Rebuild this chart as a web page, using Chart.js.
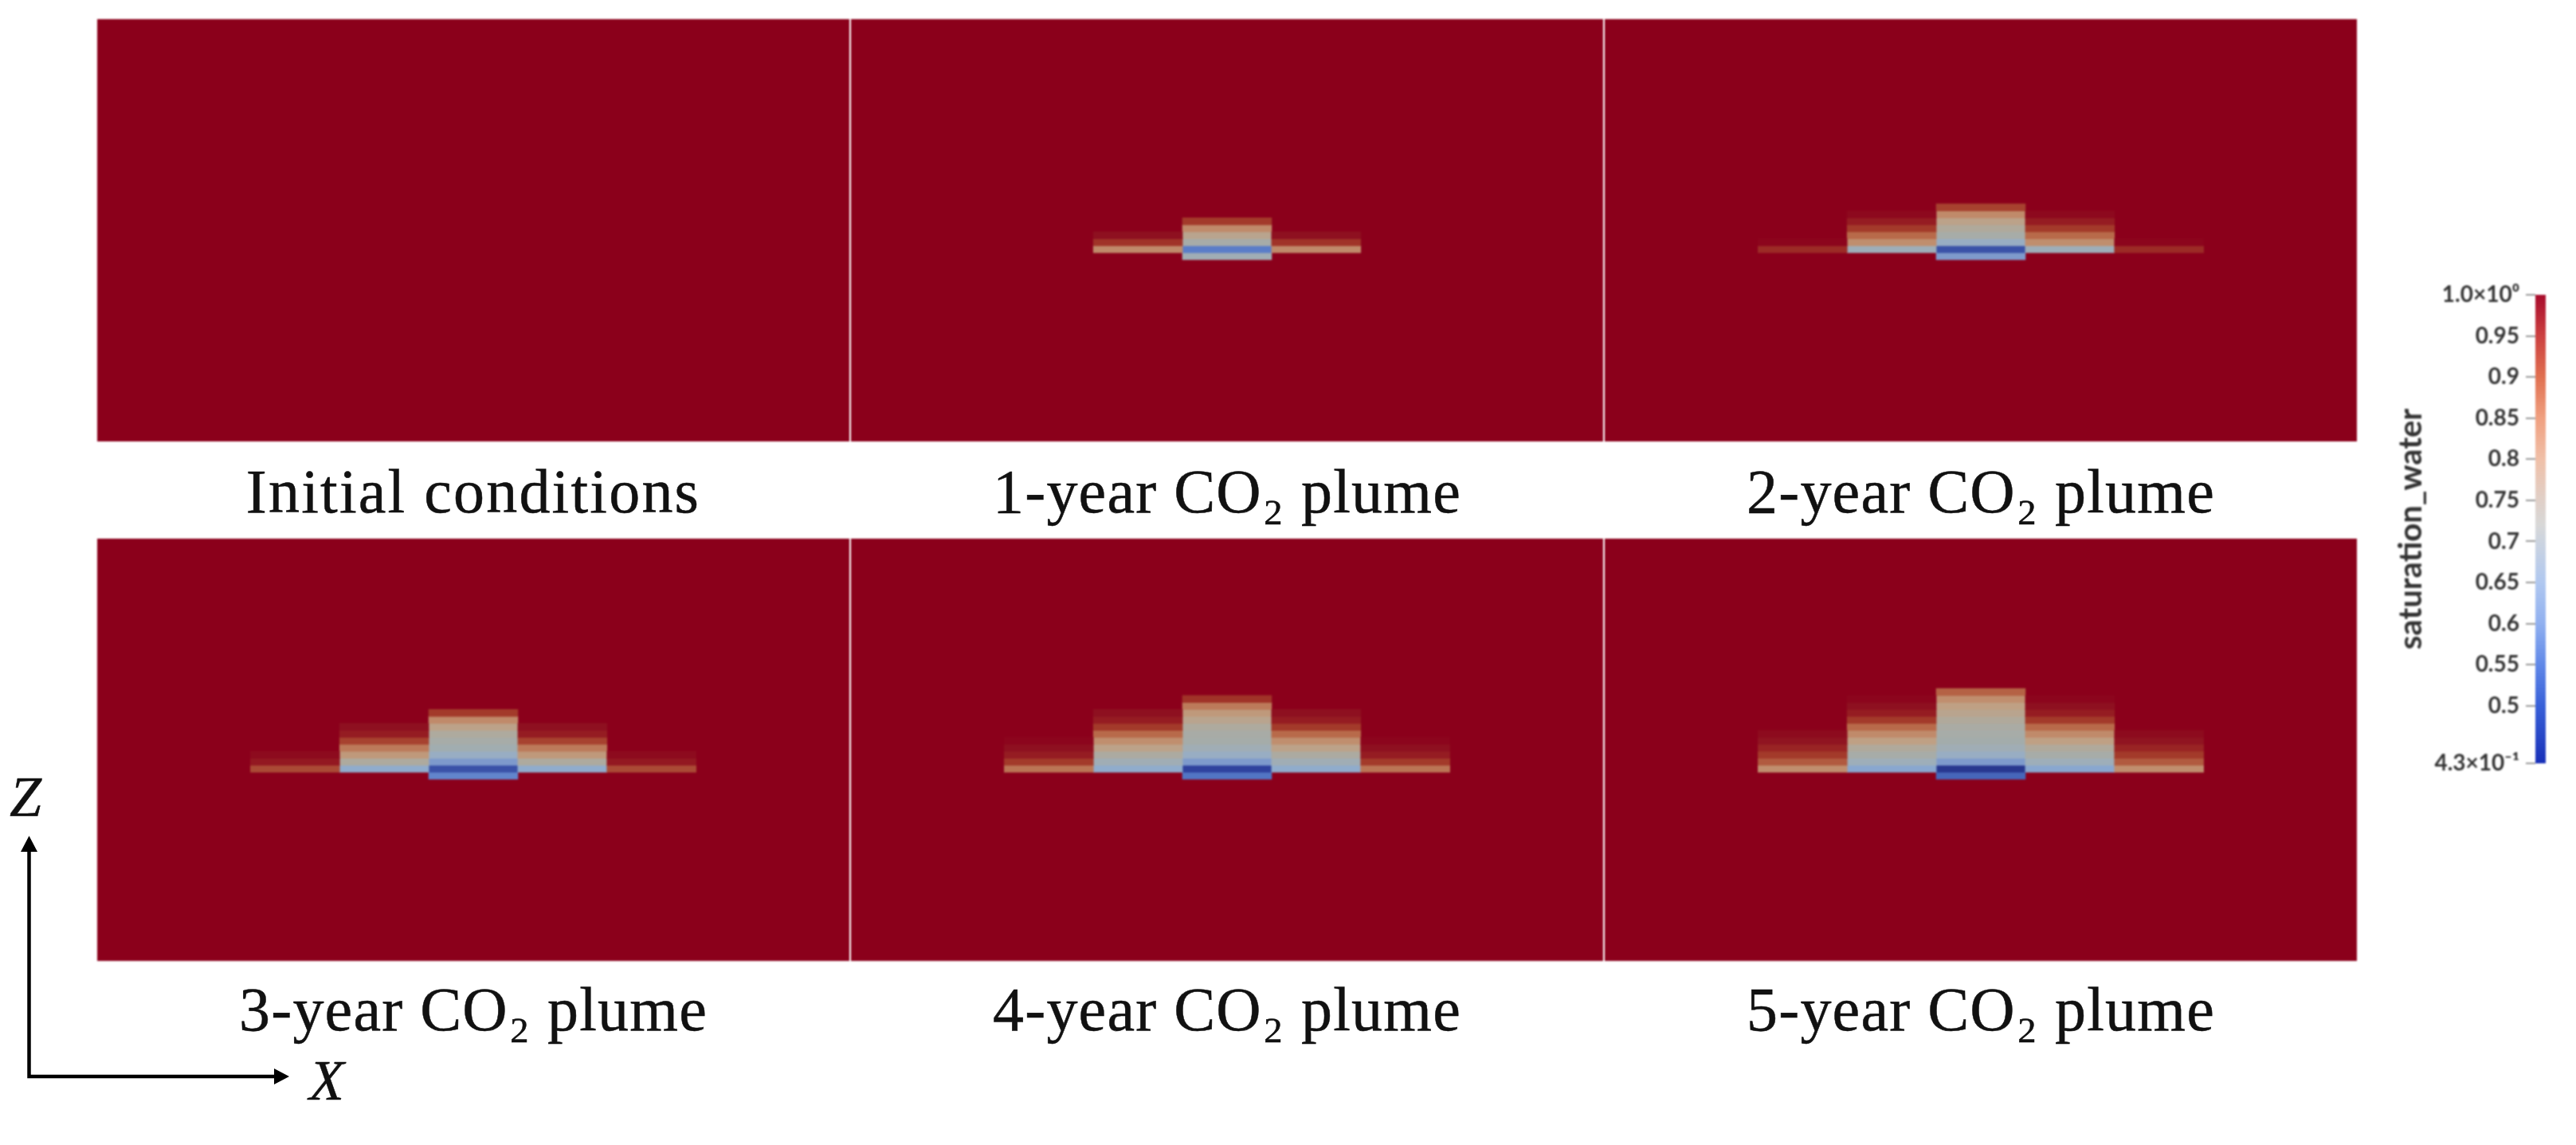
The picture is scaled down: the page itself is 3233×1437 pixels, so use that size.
<!DOCTYPE html>
<html lang="en">

<head>
    <meta charset="UTF-8">
    <title>CO2 plume saturation</title>
    <script src="https://cdn.jsdelivr.net/npm/chart.js@4/dist/chart.umd.min.js"></script>
    <style>
        body { margin: 0; background: #fff; width: 3233px; height: 1437px; overflow: hidden; position: relative; }
        canvas { position: absolute; }
        .panel { background: #8b001b; filter: blur(1.2px); }
        #colorbar { filter: blur(0.8px); }
        .caption { position: absolute; width: 944px; text-align: center; font: 78px/90px "Liberation Serif", serif; letter-spacing: 1.2px; color: #111; -webkit-text-stroke: 0.5px #111; filter: blur(0.5px); white-space: nowrap; }
        .axisname { position: absolute; font: italic 72px/80px "Liberation Serif", serif; color: #111; -webkit-text-stroke: 0.5px #111; }
        svg { position: absolute; left: 0; top: 0; }
    </style>
</head>

<body>
    <svg width="460" height="1437">
        <path d="M36.5 1351V1060M36.5 1351H350" stroke="#000" stroke-width="4.5" fill="none" stroke-linecap="square" />
        <path d="M36.5 1049L26 1069H47Z M363 1351L344 1341V1361Z" fill="#000" />
    </svg>
    <div class="axisname" style="left:12px;top:960px">Z</div>
    <div class="axisname" style="left:388px;top:1316px">X</div>

    <script>
        const panelTitles = ['Initial conditions', '1-year CO₂ plume', '2-year CO₂ plume',
            '3-year CO₂ plume', '4-year CO₂ plume', '5-year CO₂ plume'];

        // x position of the grid columns, centre is 0
        const farLeft = -2, left = -1, centre = 0, right = 1, farRight = 2;

        // saturation per layer, bottom layer first. centre starts at layer 33, the others at 32
        const year0Centre = [], year0Inner = [], year0Outer = [];
        const year1Centre = [0.72, 0.56, 0.76, 0.84, 0.89, 0.95];
        const year1Inner = [0.89, 0.955, 0.985];
        const year1Outer = [];
        const year2Centre = [0.62, 0.50, 0.69, 0.76, 0.81, 0.85, 0.89, 0.945];
        const year2Inner = [0.71, 0.885, 0.92, 0.95, 0.97, 0.992];
        const year2Outer = [0.96, 0.995];
        const year3Centre = [0.57, 0.50, 0.62, 0.69, 0.73, 0.76, 0.80, 0.85, 0.89, 0.95];
        const year3Inner = [0.67, 0.80, 0.87, 0.905, 0.945, 0.97, 0.985];
        const year3Outer = [0.94, 0.975, 0.99];
        const year4Centre = [0.55, 0.46, 0.62, 0.69, 0.72, 0.75, 0.77, 0.80, 0.84, 0.87, 0.905, 0.955];
        const year4Inner = [0.67, 0.72, 0.79, 0.85, 0.885, 0.92, 0.95, 0.97, 0.985];
        const year4Outer = [0.91, 0.95, 0.97, 0.985, 0.995];
        const year5Centre = [0.53, 0.43, 0.62, 0.69, 0.72, 0.74, 0.76, 0.78, 0.81, 0.84, 0.86, 0.885, 0.925];
        const year5Inner = [0.65, 0.71, 0.76, 0.81, 0.86, 0.89, 0.92, 0.95, 0.97, 0.985, 0.995];
        const year5Outer = [0.885, 0.93, 0.95, 0.965, 0.98, 0.99];

        const colorbarTicks = [1.0, 0.95, 0.9, 0.85, 0.8, 0.75, 0.7, 0.65, 0.6, 0.55, 0.5, 0.43];
        const colorbarLabels = ['1.0×10⁰', '0.95', '0.9', '0.85', '0.8', '0.75', '0.7', '0.65', '0.6', '0.55', '0.5', '4.3×10⁻¹'];

        // the panels come out duller than the legend in the picture, so two colour tables
        const panelStops = [[1.0, '#8b001b'], [0.985, '#8e1020'], [0.97, '#951c22'], [0.95, '#a33a2a'], [0.92, '#b86a4a'],
            [0.89, '#c08a6a'], [0.86, '#bfa084'], [0.82, '#b2a898'], [0.78, '#aaaba4'], [0.74, '#a3acab'], [0.70, '#9caebe'],
            [0.66, '#8cabd0'], [0.62, '#7e9acc'], [0.58, '#6a8ed0'], [0.54, '#4a6cc0'], [0.50, '#3a52a8'], [0.46, '#2f429e'], [0.43, '#28378f']];
        const legendStops = [[1.0, '#a80c2c'], [0.95, '#cc4040'], [0.9, '#e07050'], [0.85, '#f0a080'], [0.8, '#f0c0a8'],
            [0.75, '#e0d0c8'], [0.72, '#d8d8d8'], [0.7, '#ccd4e0'], [0.65, '#b0c8f0'], [0.6, '#90b0f0'], [0.55, '#6088e8'], [0.5, '#3860d8'], [0.43, '#1830b8']];

        function hexToRgb(h) {
            return [parseInt(h.slice(1, 3), 16), parseInt(h.slice(3, 5), 16), parseInt(h.slice(5, 7), 16)];
        }

        function colorFor(s) {
            for (let i = 1; i < panelStops.length; i++) {
                if (s >= panelStops[i][0]) {
                    const a = hexToRgb(panelStops[i - 1][1]), b = hexToRgb(panelStops[i][1]);
                    const t = (s - panelStops[i][0]) / (panelStops[i - 1][0] - panelStops[i][0]);
                    return `rgb(${a.map((c, k) => Math.round(b[k] + (c - b[k]) * t)).join(',')})`;
                }
            }
            return panelStops[panelStops.length - 1][1];
        }

        function addCells(cells, column, firstLayer, values) {
            values.forEach(function (s, i) {
                cells.push({ x: column, y: [firstLayer - i, firstLayer - i + 1], s: s });
            });
        }

        function drawPanel(index, centreVals, innerVals, outerVals) {
            const cells = [];
            addCells(cells, centre, 33, centreVals);
            addCells(cells, left, 32, innerVals);
            addCells(cells, right, 32, innerVals);
            addCells(cells, farLeft, 32, outerVals);
            addCells(cells, farRight, 32, outerVals);

            const col = index % 3, row = Math.floor(index / 3);
            const canvas = document.createElement('canvas');
            canvas.className = 'panel';
            canvas.width = 944;
            canvas.height = 530;
            canvas.style.left = [122, 1068, 2014][col] + 'px';
            canvas.style.top = [24, 676][row] + 'px';
            document.body.appendChild(canvas);

            new Chart(canvas.getContext('2d'), {
                type: 'bar',
                data: {
                    datasets: [{
                        data: cells,
                        backgroundColor: cells.map(function (c) { return colorFor(c.s); }),
                        borderWidth: 0,
                        barPercentage: 1,
                        categoryPercentage: 1
                    }]
                },
                options: {
                    responsive: false,
                    animation: false,
                    layout: { padding: 0 },
                    plugins: { legend: { display: false }, tooltip: { enabled: false } },
                    scales: {
                        x: { type: 'linear', offset: false, min: -4.22, max: 4.22, display: false },
                        y: { type: 'linear', min: -0.5, max: 60.07, reverse: true, display: false }
                    }
                }
            });

            const cap = document.createElement('div');
            cap.className = 'caption';
            cap.textContent = panelTitles[index];
            if (index === 0) cap.style.letterSpacing = '2.2px';
            cap.style.left = [122, 1068, 2014][col] + 'px';
            cap.style.top = [572, 1222][row] + 'px';
            document.body.appendChild(cap);
        }

        drawPanel(0, year0Centre, year0Inner, year0Outer);
        drawPanel(1, year1Centre, year1Inner, year1Outer);
        drawPanel(2, year2Centre, year2Inner, year2Outer);
        drawPanel(3, year3Centre, year3Inner, year3Outer);
        drawPanel(4, year4Centre, year4Inner, year4Outer);
        drawPanel(5, year5Centre, year5Inner, year5Outer);

        function legendGradient(context) {
            const chart = context.chart;
            const y = chart.scales.y;
            const top = y.getPixelForValue(1), bottom = y.getPixelForValue(0.43);
            // scales have no pixels yet on the first pass
            if (!isFinite(top) || !isFinite(bottom)) return '#888';
            const g = chart.ctx.createLinearGradient(0, top, 0, bottom);
            legendStops.forEach(function (st) { g.addColorStop(Math.min(1, (1 - st[0]) / 0.57), st[1]); });
            return g;
        }

        const barCanvas = document.createElement('canvas');
        barCanvas.id = 'colorbar';
        barCanvas.width = 195;
        barCanvas.height = 650;
        barCanvas.style.left = '3000px';
        barCanvas.style.top = '340px';
        document.body.appendChild(barCanvas);

        new Chart(barCanvas.getContext('2d'), {
            type: 'bar',
            data: {
                labels: [''],
                datasets: [{ data: [[0.43, 1.0]], backgroundColor: legendGradient, borderWidth: 0, barPercentage: 1, categoryPercentage: 1 }]
            },
            options: {
                responsive: false,
                animation: false,
                layout: { padding: { top: 30, bottom: 32, left: 0, right: 0 } },
                plugins: { legend: { display: false }, tooltip: { enabled: false } },
                scales: {
                    x: { display: false },
                    y: {
                        min: 0.43,
                        max: 1.0,
                        afterBuildTicks: function (scale) {
                            scale.ticks = colorbarTicks.map(function (v) { return { value: v }; });
                        },
                        afterFit: function (scale) { scale.width = 182; },
                        border: { display: false },
                        grid: { drawOnChartArea: false, tickLength: 12, color: '#999', lineWidth: 2 },
                        ticks: {
                            autoSkip: false,
                            padding: 8,
                            color: '#333',
                            font: { family: 'Lato', size: 28, weight: 'bold' },
                            callback: function (value, i) { return colorbarLabels[i]; }
                        },
                        title: {
                            display: true,
                            text: 'saturation_water',
                            color: '#333',
                            font: { family: 'Lato', size: 40, weight: 'bold' },
                            padding: { top: 2, bottom: 0 }
                        }
                    }
                }
            }
        });
    </script>
</body>

</html>
